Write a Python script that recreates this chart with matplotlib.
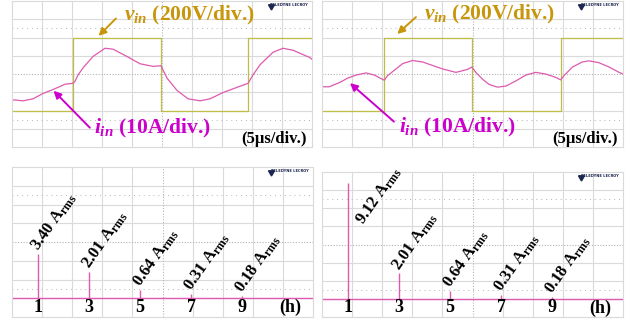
import numpy as np
import matplotlib.pyplot as plt

# oscilloscope traces (x in divisions, y in divisions)
vin_a_t = [0, 2.03, 2.03, 4.97, 4.97, 7.87, 7.87, 10]
vin_a_v = [-2, -2, 2, 2, -2, -2, 2, 2]
iin_a_t = [0.00, 0.37, 0.70, 1.03, 1.37, 1.77, 2.03, 2.10, 2.20, 2.37, 2.70, 3.10, 3.37, 3.83, 4.27,
           4.70, 4.97, 5.03, 5.17, 5.50, 5.87, 6.27, 6.60, 7.03, 7.50, 7.87, 7.93, 8.03, 8.27, 8.70,
           9.03, 9.37, 9.93, 10.0]
iin_a_v = [-1.41, -1.47, -1.36, -1.07, -0.85, -0.56, -0.51, -0.40, -0.06, 0.34, 0.96, 1.41, 1.36, 0.96, 0.56,
           0.42, 0.45, 0.23, -0.23, -0.90, -1.36, -1.47, -1.36, -1.02, -0.73, -0.51, -0.34, -0.06, 0.51, 1.19,
           1.41, 1.30, 0.90, 0.80]

vin_b_t = [0, 2.06, 2.06, 4.98, 4.98, 7.94, 7.94, 10]
vin_b_v = [-2, -2, 2, 2, -2, -2, 2, 2]
iin_b_t = [0.00, 0.24, 0.58, 0.85, 1.13, 1.46, 1.74, 1.96, 2.07, 2.18, 2.46, 2.68, 3.01, 3.34, 3.67,
           4.00, 4.45, 4.83, 4.98, 5.11, 5.33, 5.55, 5.83, 6.11, 6.44, 6.77, 7.10, 7.43, 7.77, 7.93,
           8.04, 8.32, 8.65, 8.87, 9.20, 9.54, 9.87, 10.0]
iin_b_v = [-0.70, -0.70, -0.47, -0.23, -0.06, 0.06, -0.06, -0.25, -0.34, -0.09, 0.28, 0.57, 0.74, 0.66, 0.47,
           0.28, 0.09, 0.25, 0.38, 0.09, -0.28, -0.57, -0.72, -0.66, -0.38, -0.06, 0.09, 0.0, -0.19, -0.32,
           -0.09, 0.38, 0.66, 0.72, 0.62, 0.38, 0.09, 0.0]

# harmonic spectra
harmonics = [1, 3, 5, 7, 9]
irms_a = [3.40, 2.01, 0.64, 0.31, 0.18]
irms_b = [9.12, 2.01, 0.64, 0.31, 0.18]

plt.rcParams['font.family'] = 'Liberation Serif'
plt.rcParams['mathtext.fontset'] = 'custom'
plt.rcParams['mathtext.rm'] = 'Liberation Serif:bold'
plt.rcParams['mathtext.it'] = 'Liberation Serif:italic:bold'
plt.rcParams['mathtext.bf'] = 'Liberation Serif:bold'

GRID = '#dadada'
DOT = '#b4b4b4'
VCOL = '#bdbd48'
ICOL = '#de5aae'
VTXT = '#c8960a'
ITXT = '#cc00cc'
LOGO = '#1c2650'

fig = plt.figure(figsize=(6.32, 3.2), dpi=100)


def scope(rect):
    ax = fig.add_axes(rect)
    ax.set_xlim(0, 10)
    ax.set_ylim(-4, 4)
    ax.set_xticks([])
    ax.set_yticks([])
    for v in range(1, 10):
        if v != 5:
            ax.axvline(v, color=GRID, lw=0.8, zorder=0)
    for v in range(-3, 4):
        if v != 0:
            ax.axhline(v, color=GRID, lw=0.8, zorder=0)
    ax.axvline(5, color=DOT, lw=0.8, ls=(0, (1, 1.5)), zorder=0)
    ax.axhline(0, color=DOT, lw=0.8, ls=(0, (1, 1.5)), zorder=0)
    for v in (-2.5, 2.5):
        ax.axhline(v, color=DOT, lw=0.7, ls=(0, (1, 4)), zorder=0)
    for s in ax.spines.values():
        s.set_color(GRID)
        s.set_linewidth(0.8)
    # instrument logo
    ax.plot(8.62, 3.72, marker=(3, 0, 180), ms=5, color=LOGO)
    ax.text(9.85, 3.76, 'TELEDYNE LECROY', fontsize=2.6, color=LOGO,
            fontweight='bold', ha='right', va='center', family='DejaVu Sans')
    return ax


def waveform(rect, vt, vv, it, iv, vtxt, varr, itxt, iarr):
    ax = scope(rect)
    ax.plot(vt, vv, color=VCOL, lw=0.9)
    ax.plot(it, iv, color=ICOL, lw=0.9)
    ax.text(vtxt[0], vtxt[1], r'$v_{in}$ (200V/div.)', color=VTXT, fontsize=15.5,
            fontweight='bold', ha='left', va='center')
    ax.annotate('', xy=varr[1], xytext=varr[0],
                arrowprops=dict(arrowstyle='-|>', color=VTXT, lw=1.4, mutation_scale=11))
    ax.text(itxt[0], itxt[1], r'$i_{in}$ (10A/div.)', color=ITXT, fontsize=15.5,
            fontweight='bold', ha='left', va='center')
    ax.annotate('', xy=iarr[1], xytext=iarr[0],
                arrowprops=dict(arrowstyle='-|>', color=ITXT, lw=1.4, mutation_scale=11))
    ax.text(9.83, -3.58, '(5µs/div.)', fontsize=12, fontweight='bold', ha='right', va='center')
    return ax


def spectrum(rect, values):
    ax = scope(rect)
    per_div = 1.43  # A per division
    base = -3
    xs = [0.85 * h for h in harmonics]
    ax.axhline(base, color=ICOL, lw=1.0)
    ax.vlines(xs, base, [base + v / per_div for v in values], color=ICOL, lw=1.0)
    for x, h, v in zip(xs, harmonics, values):
        top = base + v / per_div
        if top > 1.5:
            pos = (x + 0.42, base + 4.2)
        else:
            pos = (x - 0.1, top + 0.25)
        ax.text(pos[0], pos[1], f'{v:.2f} A$_{{\\mathrm{{rms}}}}$', fontsize=12, fontweight='bold',
                rotation=55, rotation_mode='anchor', ha='left', va='center')
        ax.text(x, -3.5, str(h), fontsize=13, fontweight='bold', ha='center', va='center')
    ax.text(9.25, -3.5, '(h)', fontsize=13, fontweight='bold', ha='center', va='center')
    return ax


waveform([12 / 632, 1 - 147 / 320, 300 / 632, 146 / 320],
         vin_a_t, vin_a_v, iin_a_t, iin_a_v,
         (3.75, 3.22), ((3.53, 3.15), (2.82, 1.98)),
         (2.75, -3.0), ((2.66, -3.05), (1.32, -0.81)))
waveform([322 / 632, 1 - 147 / 320, 301 / 632, 146 / 320],
         vin_b_t, vin_b_v, iin_b_t, iin_b_v,
         (3.40, 3.28), ((3.19, 3.22), (2.43, 2.09)),
         (2.56, -2.94), ((2.46, -2.71), (0.86, -0.40)))
spectrum([12 / 632, 1 - 317 / 320, 301 / 632, 150 / 320], irms_a)
spectrum([322 / 632, 1 - 317 / 320, 301 / 632, 145 / 320], irms_b)

fig.savefig('out.png', dpi=100)
